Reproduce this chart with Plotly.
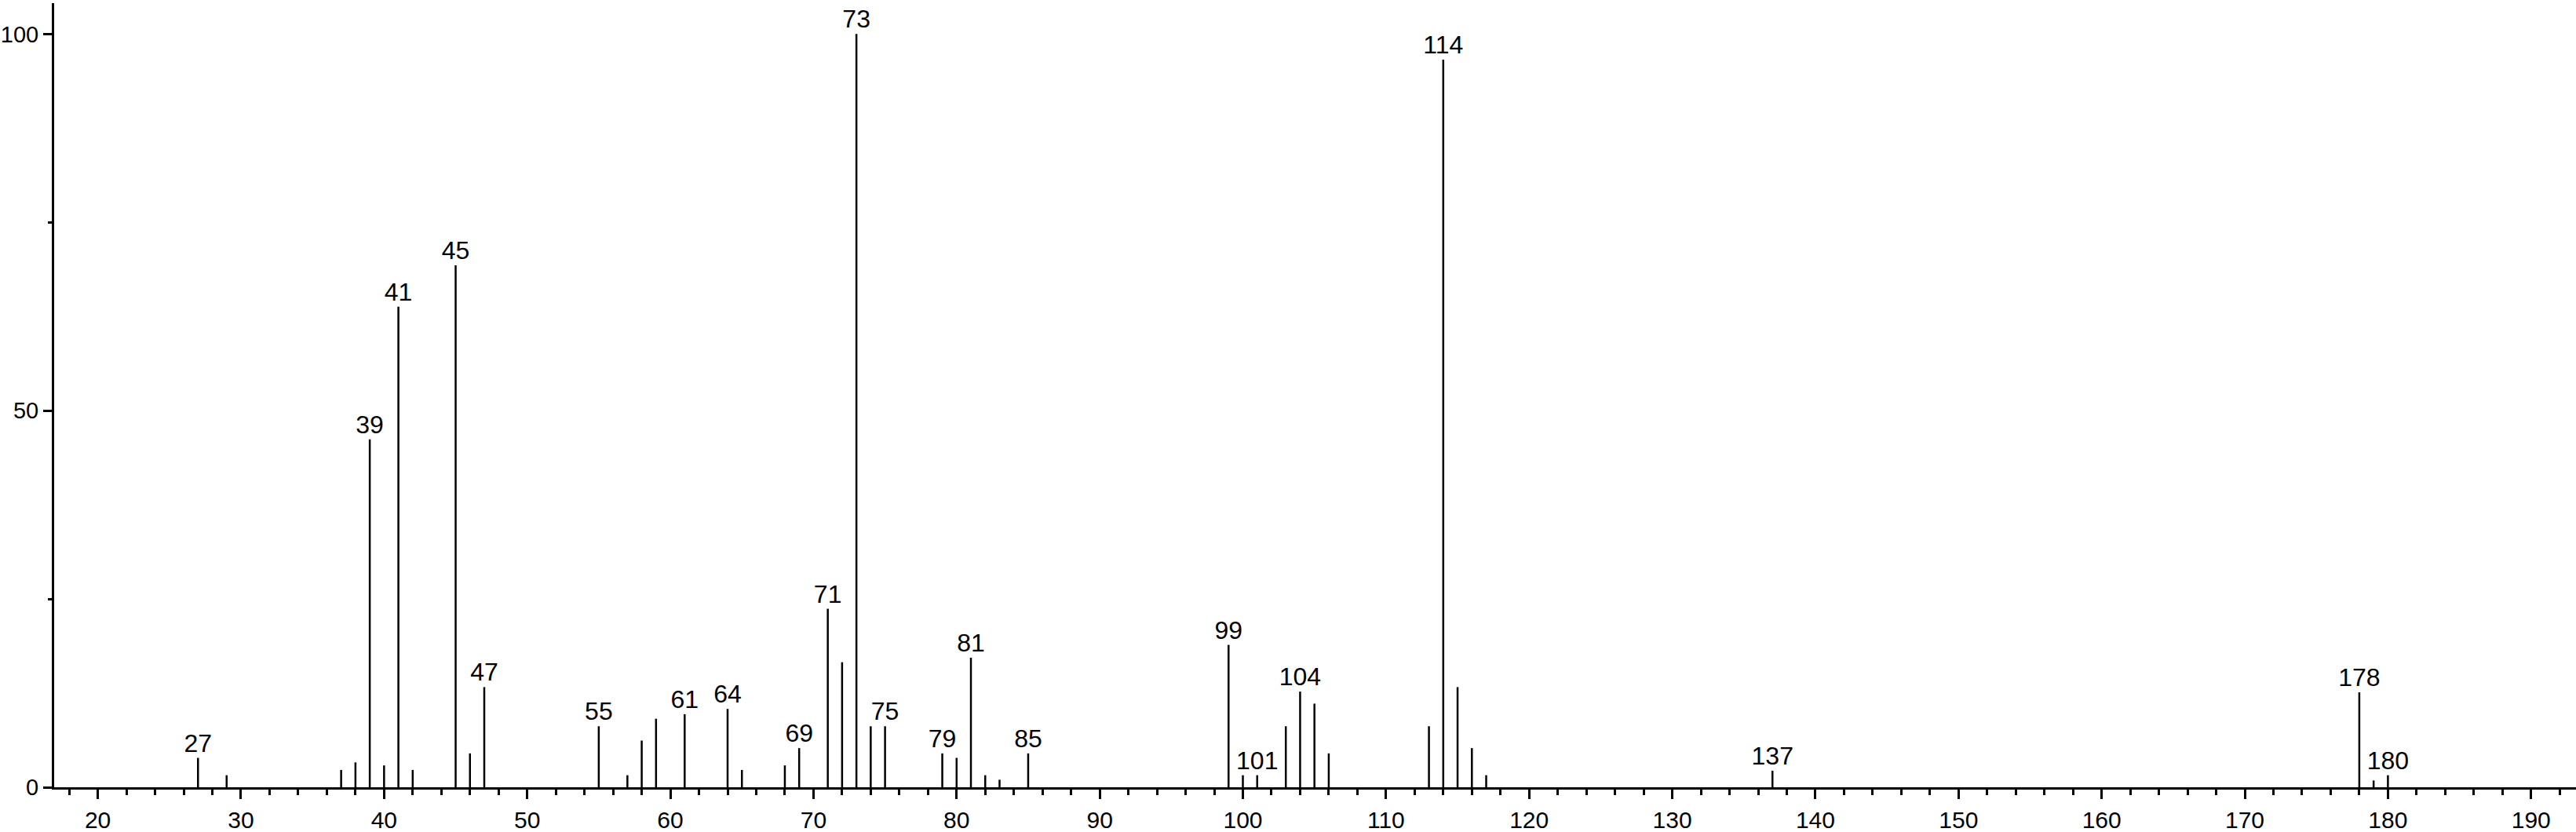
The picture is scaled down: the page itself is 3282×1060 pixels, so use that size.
import plotly.graph_objects as go

# m/z and relative intensity
mz = [27, 29, 37, 38, 39, 40, 41, 42, 45, 46, 47, 55, 57, 58, 59, 61, 64, 65,
      68, 69, 71, 72, 73, 74, 75, 79, 80, 81, 82, 83, 85, 99, 100, 101, 103,
      104, 105, 106, 113, 114, 115, 116, 117, 137, 178, 179, 180]
intensity = [3.9, 1.6, 2.3, 3.3, 46.2, 2.9, 63.8, 2.3, 69.3, 4.5, 13.3, 8.1,
             1.6, 6.2, 9.1, 9.7, 10.4, 2.3, 2.9, 5.2, 23.7, 16.6, 100.0, 8.1,
             8.1, 4.5, 3.9, 17.2, 1.6, 1.0, 4.5, 18.9, 1.6, 1.6, 8.1, 12.7,
             11.1, 4.5, 8.1, 96.6, 13.3, 5.2, 1.6, 2.2, 12.6, 0.9, 1.6]

labeled = [27, 39, 41, 45, 47, 55, 61, 64, 69, 71, 73, 75, 79, 81, 85, 99,
           101, 104, 114, 137, 178, 180]

FONT = "Liberation Sans, Arial, sans-serif"

# stick lines, one segment per peak
xs, ys = [], []
for m, v in zip(mz, intensity):
    xs += [m, m, None]
    ys += [0, v, None]

fig = go.Figure()

fig.add_trace(go.Scatter(
    x=xs, y=ys,
    mode="lines",
    line=dict(color="black", width=2.5),
    hoverinfo="skip",
    showlegend=False
))

lab_y = [intensity[mz.index(m)] for m in labeled]
fig.add_trace(go.Scatter(
    x=labeled, y=lab_y,
    mode="text",
    text=[str(m) for m in labeled],
    textposition="top center",
    textfont=dict(family=FONT, size=32, color="black"),
    hoverinfo="skip",
    showlegend=False
))

fig.update_layout(
    width=3282, height=1060,
    margin=dict(l=69, r=0, t=4, b=57),
    paper_bgcolor="white",
    plot_bgcolor="white",
    font=dict(family=FONT, size=30, color="black"),
    xaxis=dict(
        range=[16.95, 193.14],
        automargin=False,
        showgrid=False, zeroline=False,
        showline=True, linecolor="black", linewidth=3,
        ticks="outside", ticklen=12, tickwidth=3, tickcolor="black",
        tick0=0, dtick=10,
        minor=dict(ticks="outside", ticklen=7, tickwidth=3,
                   tickcolor="black", dtick=2, showgrid=False),
        ticklabelstandoff=1,
    ),
    yaxis=dict(
        range=[0, 104.1],
        automargin=False,
        showgrid=False, zeroline=False,
        showline=True, linecolor="black", linewidth=3,
        ticks="outside", ticklen=11, tickwidth=3, tickcolor="black",
        tickvals=[0, 50, 100],
        tickfont=dict(size=29),
        minor=dict(ticks="outside", ticklen=5, tickwidth=3,
                   tickcolor="black", tickvals=[25, 75], showgrid=False),
        ticklabelstandoff=0,
    ),
)

# drop the default 8px body margin so the figure fills the window exactly
fig.write_html("out.html", config={"displayModeBar": False},
               post_script="document.body.style.margin='0px';")
